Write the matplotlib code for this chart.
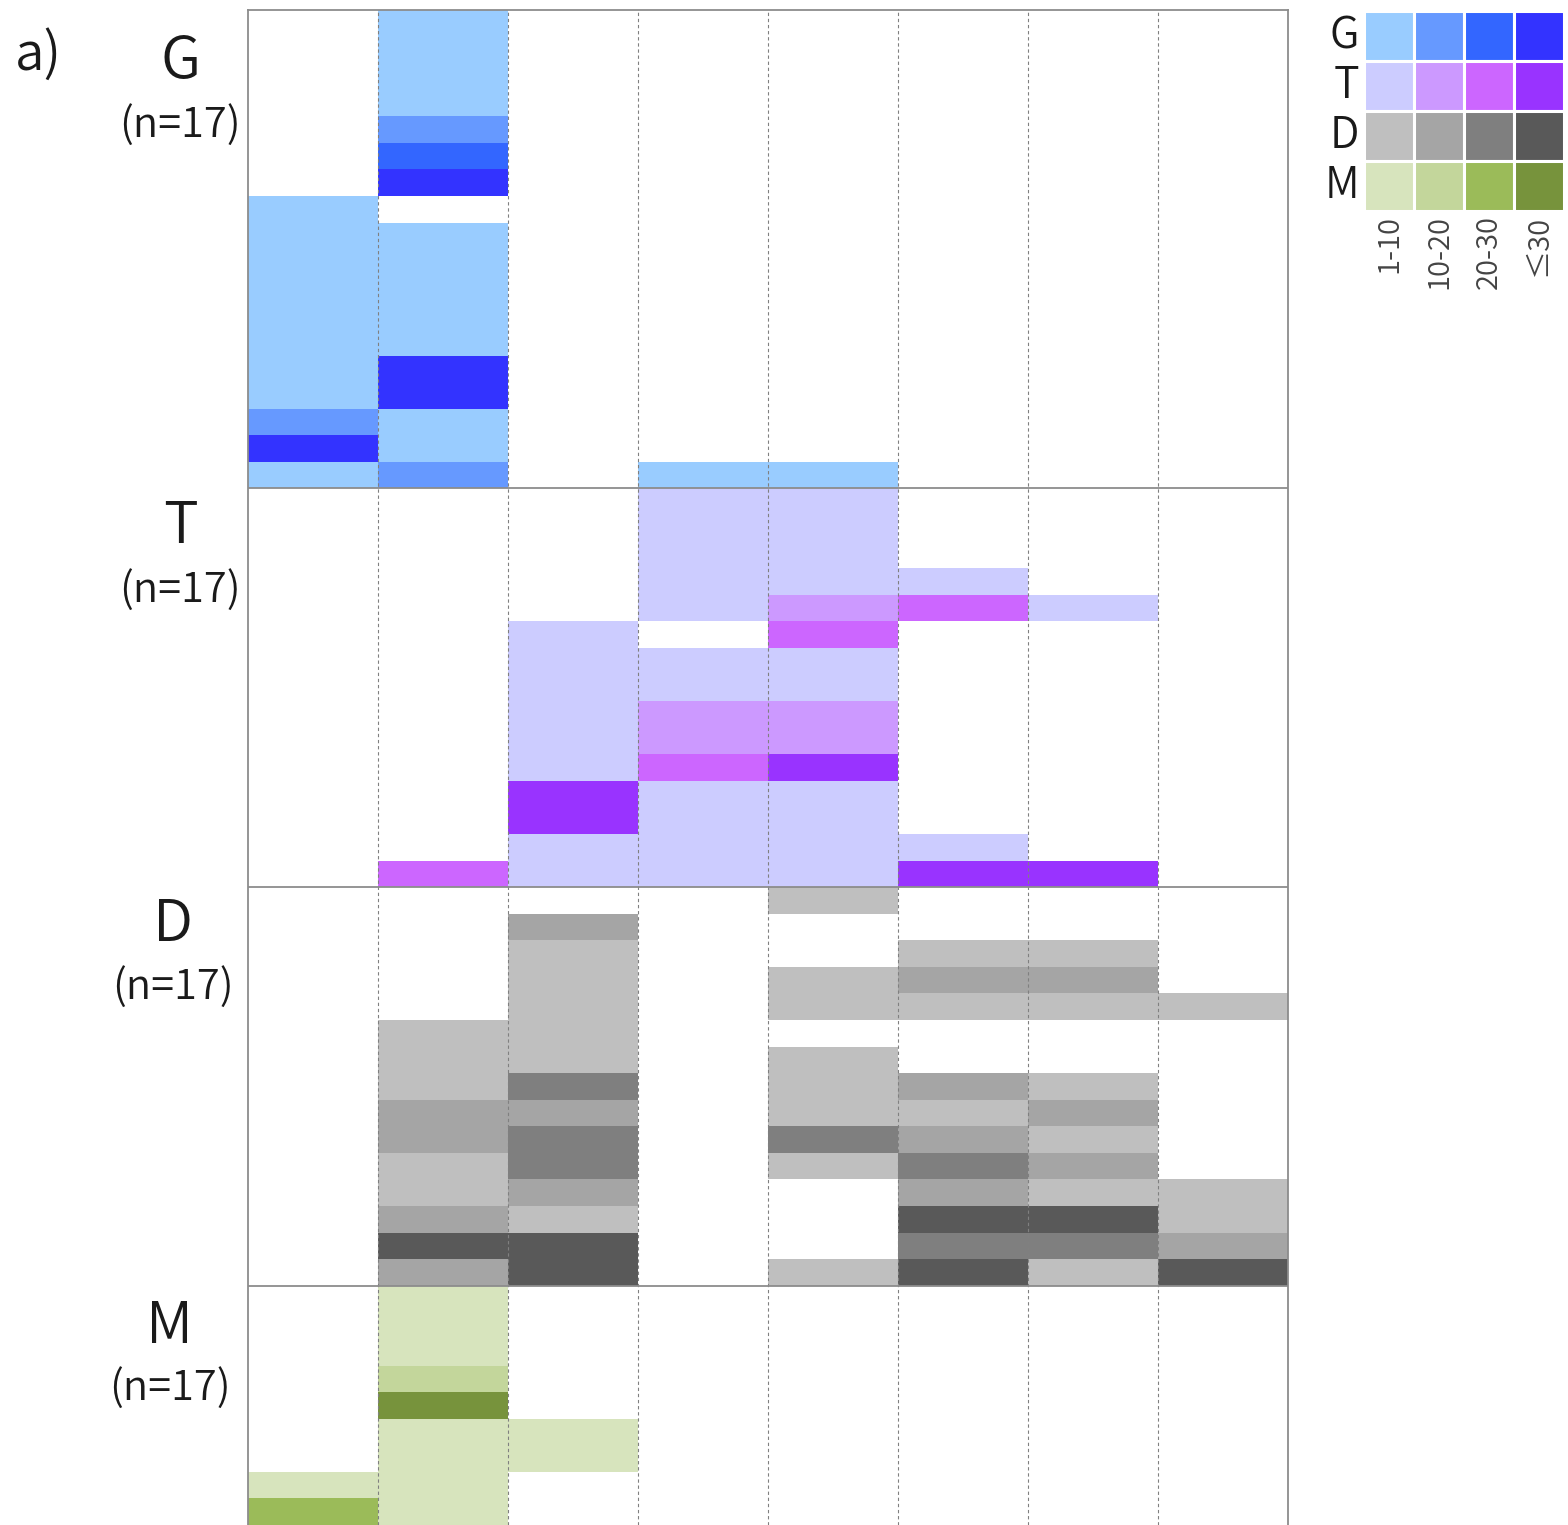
"""
Heatmap kiểu "dải màu" cho 4 nhóm G / T / D / M, mỗi ô là mức 1-10, 10-20, 20-30, ≤30.
Xuất ra out.png (1568x1525).
"""

import matplotlib.pyplot as plt

W, H = 1568, 1525
DPI = 100

PANELS = ["G", "T", "D", "M"]
PANEL_N = [17, 17, 17, 17]
BIN_LABELS = ["1-10", "10-20", "20-30", "≤30"]

# màu cho mức 1..4 của từng nhóm
G_COLORS = ["#99CCFF", "#6699FF", "#3366FF", "#3333FF"]
T_COLORS = ["#CCCCFF", "#CC99FF", "#CC66FF", "#9933FF"]
D_COLORS = ["#BFBFBF", "#A5A5A5", "#7F7F7F", "#595959"]
M_COLORS = ["#D7E4BD", "#C3D69B", "#9BBB59", "#77933C"]

# mức theo hàng (0 = trống), mỗi chuỗi là một cột, hàng trên cùng trước
G_LEVELS = [
    "000000011111111241",
    "111123401111144112",
    "000000000000000000",
    "000000000000000001",
    "000000000000000001",
    "000000000000000000",
    "000000000000000000",
    "000000000000000000",
]
T_LEVELS = [
    "000000000000000",
    "000000000000003",
    "000001111114411",
    "111110112231111",
    "111123112241111",
    "000130000000014",
    "000010000000004",
    "000000000000000",
]
D_LEVELS = [
    "000000000000000",
    "000001112211242",
    "021111132332144",
    "000000000000000",
    "100110111310001",
    "001210021232434",
    "001210012121431",
    "000010000001124",
]
# nhóm M bị cắt ở mép dưới ảnh, chỉ thấy 9 hàng
M_LEVELS = [
    "000000013",
    "111241111",
    "000001100",
    "000000000",
    "000000000",
    "000000000",
    "000000000",
    "000000000",
]

LEVELS = [G_LEVELS, T_LEVELS, D_LEVELS, M_LEVELS]
COLORS = [G_COLORS, T_COLORS, D_COLORS, M_COLORS]

plt.rcParams["font.family"] = ["Noto Sans CJK JP", "DejaVu Sans"]
plt.rcParams["font.weight"] = 350

FRAME = "#8c8c8c"
INK = "#1a1a1a"


def fx(px):
    return px / W


def fy(py):
    return 1 - py / H


def draw_panel(ax, levels, colors, row0):
    # gộp các hàng liên tiếp cùng mức thành một thanh để không bị khe
    for col, code in enumerate(levels):
        vals = [int(c) for c in code]
        start = 0
        for i in range(1, len(vals) + 1):
            if i == len(vals) or vals[i] != vals[start]:
                lv = vals[start]
                if lv > 0:
                    ax.bar(col, i - start, width=1, bottom=row0 + start, align="edge",
                           color=colors[lv - 1], linewidth=0, zorder=2)
                start = i


def main():
    fig = plt.figure(figsize=(W / DPI, H / DPI), dpi=DPI)

    n_rows = [len(lv[0]) for lv in LEVELS]
    total = sum(n_rows)
    n_cols = len(G_LEVELS)

    # --- lưới chính ---
    ax = fig.add_axes([fx(248), 0, fx(1288) - fx(248), fy(10)])
    row0 = 0
    starts = []
    for levels, colors, nr in zip(LEVELS, COLORS, n_rows):
        starts.append(row0)
        draw_panel(ax, levels, colors, row0)
        row0 += nr

    for x in range(1, n_cols):
        ax.axvline(x, color="#808080", lw=0.8, linestyle=(0, (3, 2.5)), zorder=3)
    for r in starts[1:]:
        ax.axhline(r, color=FRAME, lw=1.3, zorder=4)

    ax.set_xlim(0, n_cols)
    ax.set_ylim(total, 0)
    ax.set_xticks([])
    ax.set_yticks([])
    for side in ["left", "right", "top"]:
        ax.spines[side].set_color(FRAME)
        ax.spines[side].set_linewidth(1.3)
    ax.spines["bottom"].set_visible(False)

    # nhãn nhóm bên trái
    label_x = [180, 180, 173, 170]
    letter_y = [62, 527, 925, 1327]
    n_y = [125, 590, 987, 1388]
    for name, n, x, y1, y2 in zip(PANELS, PANEL_N, label_x, letter_y, n_y):
        fig.text(fx(x), fy(y1), name, fontsize=42, ha="center", va="center", color=INK)
        fig.text(fx(x), fy(y2), f"(n={n})", fontsize=30, ha="center", va="center", color=INK)

    fig.text(fx(38), fy(55), "a)", fontsize=38, ha="center", va="center", color=INK)

    # --- chú giải màu ---
    lg = fig.add_axes([fx(1364), fy(211), fx(1564) - fx(1364), fy(11) - fy(211)])
    for r, colors in enumerate(COLORS):
        for c, col in enumerate(colors):
            lg.bar(c, 1, width=1, bottom=r, align="edge", color=col,
                   edgecolor="white", linewidth=2.2)
        lg.text(-0.1, r + 0.5, PANELS[r], fontsize=31, ha="right", va="center", color=INK)
    for c, lab in enumerate(BIN_LABELS):
        lg.text(c + 0.5, 4.08, lab, fontsize=21, rotation=90, ha="center", va="top", color="#444444")
    lg.set_xlim(0, 4)
    lg.set_ylim(4, 0)
    lg.axis("off")

    fig.savefig("out.png", dpi=DPI)
    plt.close(fig)


if __name__ == "__main__":
    main()
